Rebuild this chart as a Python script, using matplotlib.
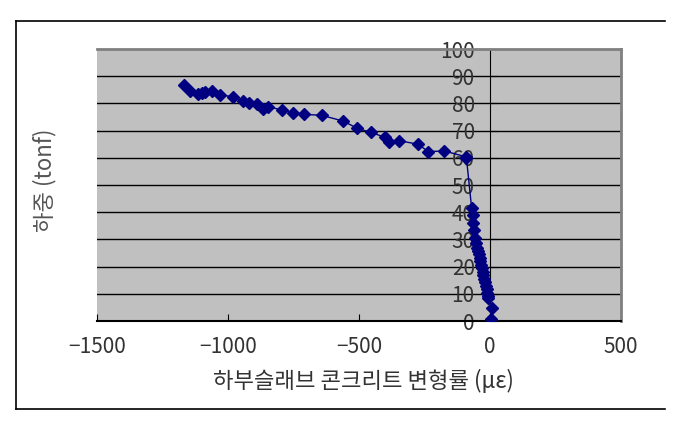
import matplotlib.pyplot as plt
from matplotlib.lines import Line2D

plt.rcParams['font.family'] = ['Noto Sans CJK KR', 'DejaVu Sans']

# strain (micro-strain) and load (tonf)
strain = [-1167, -1145, -1113, -1100, -1088, -1060, -1031, -982, -944, -920,
          -888, -865, -849, -793, -751, -710, -642, -560, -506, -455,
          -401, -384, -346, -276, -235, -174, -93, -90,
          -70, -66, -64, -61, -57, -53,
          -49, -46, -43, -40, -37, -34, -31, -28, -25, -22,
          -19, -16, -13, -10, -8, -6, 6, 2]
load = [86.8, 84.7, 83.5, 83.9, 84.1, 84.6, 83.1, 82.5, 81.0, 80.0,
        79.7, 77.9, 78.8, 77.6, 76.6, 76.0, 75.6, 73.5, 70.8, 69.4,
        67.5, 65.9, 66.3, 65.0, 62.3, 62.5, 60.4, 60.0,
        41.4, 39.0, 35.9, 33.5, 30.5, 28.7,
        27.0, 25.8, 24.6, 23.3, 22.0, 20.7, 19.4, 18.1, 16.8, 15.5,
        14.2, 12.9, 11.6, 10.4, 9.3, 8.5, 4.8, 0.8]

xticks = [-1500, -1000, -500, 0, 500]
yticks = [0, 10, 20, 30, 40, 50, 60, 70, 80, 90, 100]

fig = plt.figure(figsize=(6.94, 4.26), dpi=100)
ax = fig.add_axes([97 / 694, 105 / 426, 524 / 694, 272 / 426])
ax.set_facecolor('#c0c0c0')

ax.plot(strain, load, color='#000080', lw=1.0, marker='D', ms=6.3,
        mec='#000080', mfc='#000080', zorder=5)

ax.set_xlim(-1500, 500)
ax.set_ylim(0, 100)
ax.set_xticks(xticks)
ax.set_yticks(yticks)
ax.set_xticklabels([str(v).replace('-', '\u2212') for v in xticks])

for y in yticks[1:-1]:
    ax.axhline(y, color='black', lw=1.0, zorder=1)

ax.spines['left'].set_position(('data', 0))
ax.spines['left'].set_color('black')
ax.spines['bottom'].set_color('black')
ax.spines['bottom'].set_linewidth(1.5)
ax.spines['top'].set_color('#808080')
ax.spines['top'].set_linewidth(2)
ax.spines['right'].set_color('#808080')
ax.spines['right'].set_linewidth(2)

ax.tick_params(axis='x', direction='in', length=5, color='black',
               labelsize=15, labelcolor='#333333', pad=11)
ax.tick_params(axis='y', direction='in', length=6, color='black',
               labelsize=15, labelcolor='#333333', pad=11)

fig.text(363 / 694, 1 - 381 / 426, '하부슬래브 콘크리트 변형률 (με)',
         ha='center', va='center', fontsize=16, color='#333333')
fig.text(45 / 694, 1 - 180 / 426, '하중 (tonf)', rotation=90,
         ha='center', va='center', fontsize=16, color='#555555')

# outer chart frame (left, top, bottom)
fx0, fx1 = 16 / 694, 665 / 694
fy0, fy1 = 1 - 409 / 426, 1 - 21 / 426
fig.add_artist(Line2D([fx0, fx1], [fy1, fy1], color='black', lw=1.2))
fig.add_artist(Line2D([fx0, fx1], [fy0, fy0], color='black', lw=1.2))
fig.add_artist(Line2D([fx0, fx0], [fy0, fy1], color='black', lw=1.2))

fig.savefig('out.png', dpi=100)
